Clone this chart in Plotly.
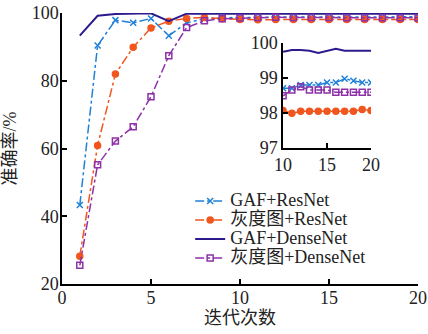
import plotly.graph_objects as go

epochs = list(range(1, 21))
gaf_resnet = [43.3, 90.4, 97.9, 97.1, 98.4, 93.3, 97.1, 98.3, 98.6, 98.71, 98.71, 98.8, 98.8, 98.8, 98.87, 98.87, 98.98, 98.92, 98.87, 98.87]
gray_resnet = [28.2, 60.9, 82.0, 89.9, 95.6, 97.6, 98.4, 98.7, 98.3, 98.07, 97.99, 98.05, 98.05, 98.05, 98.05, 98.05, 98.05, 98.05, 98.1, 98.07]
gaf_densenet = [93.3, 99.2, 99.7, 99.8, 99.9, 97.6, 99.8, 99.8, 99.8, 99.75, 99.8, 99.8, 99.78, 99.72, 99.78, 99.84, 99.78, 99.78, 99.78, 99.78]
gray_densenet = [25.5, 55.2, 62.2, 66.4, 75.3, 87.4, 95.7, 97.7, 98.3, 98.49, 98.66, 98.75, 98.66, 98.66, 98.66, 98.59, 98.59, 98.59, 98.59, 98.59]

names = ["GAF+ResNet", "灰度图+ResNet", "GAF+DenseNet", "灰度图+DenseNet"]
series = [gaf_resnet, gray_resnet, gaf_densenet, gray_densenet]
colors = ["#1f80d8", "#f0561e", "#2c1b8c", "#8e30a8"]
dashes = ["dashdot", "dashdot", "solid", "dashdot"]
symbols = ["x-thin", "circle", None, "square-open"]
widths = [1.5, 1.5, 2, 1.5]

main_x_ticks = [0, 5, 10, 15, 20]
main_y_ticks = [20, 40, 60, 80, 100]
inset_x_ticks = [10, 15, 20]
inset_y_ticks = [97, 98, 99, 100]

FONT = "Liberation Serif, DejaVu Serif, Noto Sans CJK SC, serif"

fig = go.Figure()
for name, ys, c, d, s, w in zip(names, series, colors, dashes, symbols, widths):
    mode = "lines+markers" if s else "lines"
    marker = dict(symbol=s, size=6, color=c, line=dict(color=c, width=1.5)) if s else None
    fig.add_trace(go.Scatter(x=epochs, y=ys, name=f'<span style="font-size:18px">{name}</span>',
                             mode=mode, line=dict(color=c, dash=d, width=w), marker=marker,
                             xaxis="x", yaxis="y"))
    fig.add_trace(go.Scatter(x=epochs[9:], y=ys[9:], name=name, mode=mode,
                             line=dict(color=c, dash=d, width=w), marker=marker,
                             xaxis="x2", yaxis="y2", showlegend=False))

axis_common = dict(showline=True, linecolor="black", linewidth=1.5, ticks="inside",
                   ticklen=5, tickcolor="black", tickwidth=1.5, showgrid=False,
                   zeroline=False, mirror=False, automargin=False,
                   tickfont=dict(family=FONT, size=18, color="#222"))

fig.update_layout(
    width=428, height=334,
    margin=dict(l=62, r=10, t=13, b=50),
    paper_bgcolor="white", plot_bgcolor="white",
    font=dict(family=FONT, size=18, color="#222"),
    xaxis=dict(range=[0, 20], tickvals=main_x_ticks, domain=[0, 1], ticklabelstandoff=-3,
               title=dict(text="迭代次数", font=dict(family=FONT, size=18), standoff=0),
               **axis_common),
    yaxis=dict(range=[20, 100], tickvals=main_y_ticks, domain=[0, 1], ticklabelstandoff=-2,
               title=dict(text="准确率/%", font=dict(family=FONT, size=18)),
               **axis_common),
    xaxis2=dict(range=[10, 20], tickvals=inset_x_ticks, domain=[0.621, 0.868],
                anchor="y2", **axis_common),
    yaxis2=dict(range=[97, 100], tickvals=inset_y_ticks, domain=[0.502, 0.889],
                anchor="x2", **axis_common),
    legend=dict(x=0.36, y=0.36, xanchor="left", yanchor="top",
                bgcolor="rgba(0,0,0,0)", font=dict(family=FONT, size=12, color="#222"),
                tracegroupgap=0),
    showlegend=True,
)

fig.write_html("out.html", config={"displayModeBar": False},
               post_script="document.body.style.margin='0';")
